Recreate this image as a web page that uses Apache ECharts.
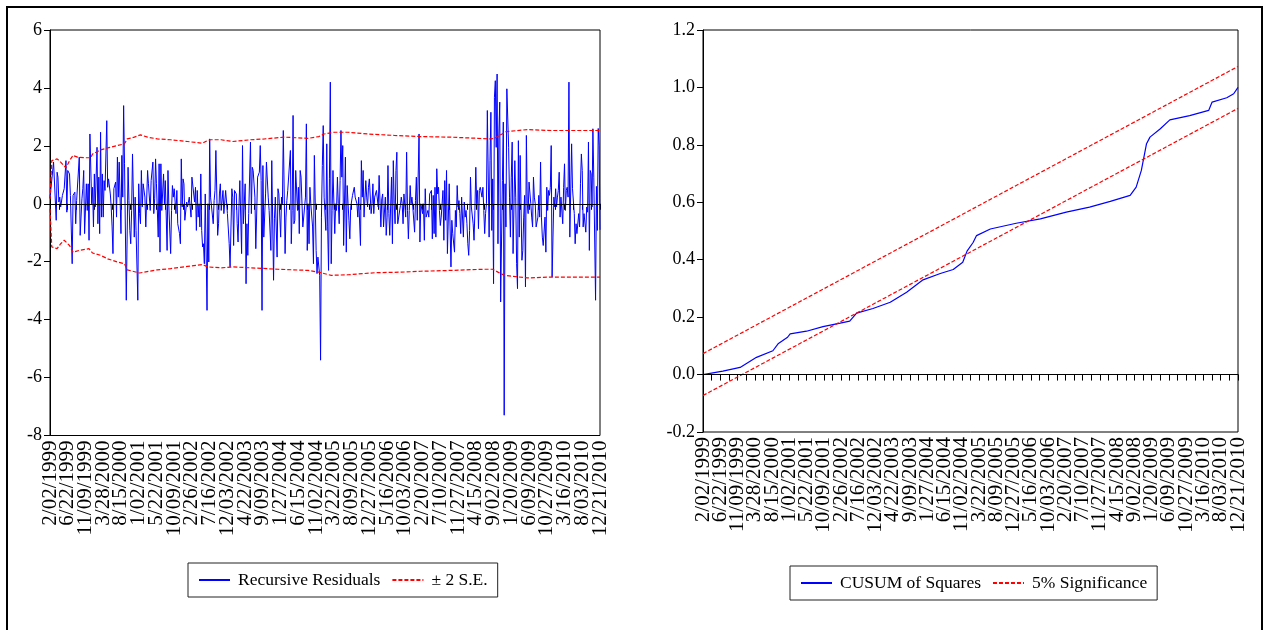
<!DOCTYPE html>
<html>
<head>
<meta charset="utf-8">
<script src="https://cdn.jsdelivr.net/npm/echarts@6/dist/echarts.min.js"></script>
<style>
html,body{margin:0;padding:0;background:#fff;}
#chart{width:1269px;height:630px;}
</style>
</head>
<body>
<div id="chart"></div>
<script>
// ---------- categories: weekly dates 2/02/1999 .. 12/21/2010 ----------
const firstWeek = [1999, 2, 2];
const weekCount = 621;
const labelEvery = 20;   // a date label every 20 weeks
const tickEvery = 10;    // a tick every 10 weeks
const categories = [];
(function () {
  const t0 = Date.UTC(firstWeek[0], firstWeek[1] - 1, firstWeek[2]);
  for (let i = 0; i < weekCount; i++) {
    const d = new Date(t0 + i * 7 * 86400000);
    const dd = String(d.getUTCDate()).padStart(2, '0');
    categories.push((d.getUTCMonth() + 1) + '/' + dd + '/' + d.getUTCFullYear());
  }
})();

// ---------- recursive residuals [week index, value] ----------
const residuals = [
[0,0.2],[4,1.44],[7,-0.57],[8,1.09],[9,0.92],[10,0.06],[11,0.23],[12,-0.11],[14,0.29],[16,0.52],[18,1.49],[19,-0.29],[20,1.15],[22,1.03],[23,0.29],[25,-2.07],[26,0.29],[28,0.40],[29,-0.69],[30,0.11],[32,0.06],[33,1.61],[34,-1.09],[36,0.17],[37,0.52],[38,1.15],[39,-1.03],[41,0.69],[42,-0.23],[43,0.69],[44,-1.26],[45,2.41],[47,0],[48,0.57],[49,-0.80],[50,1.03],[51,-0.11],[53,1.95],[54,-0.69],[55,0.92],[56,-1.03],[57,2.47],[58,-0.46],[59,1.03],[60,-0.46],[61,0.80],[62,0.46],[64,2.87],[65,0.57],[66,0.86],[68,0.34],[69,-0.11],[70,-0.80],[71,-1.72],[72,0.52],[74,0.75],[75,-0.46],[76,1.61],[77,0.23],[78,1.44],[80,-1.03],[81,1.67],[82,0.23],[83,3.39],[84,1.38],[86,-3.33],[88,1.26],[89,0.11],[90,-0.92],[91,-1.38],[92,-0.23],[93,1.72],[95,-1.15],[96,0.23],[97,-0.92],[99,-3.33],[100,0.69],[101,-0.34],[102,-0.69],[103,1.15],[104,-0.11],[105,0.69],[107,0.23],[108,-0.80],[110,1.15],[111,0.69],[113,-0.23],[114,0.80],[116,1.44],[117,-0.34],[118,0.17],[119,1.55],[120,0.69],[122,-1.15],[123,1.38],[124,-1.67],[125,1.38],[126,-0.23],[128,1.03],[129,0],[130,0.80],[132,-1.61],[133,1.15],[134,-0.11],[136,-1.72],[137,-0.23],[138,0.63],[139,0.23],[140,0.52],[142,-0.34],[143,0.46],[144,-0.69],[146,-1.03],[147,-1.38],[148,1.55],[149,-0.11],[150,0.86],[151,0.69],[152,-0.57],[154,0.06],[155,-0.11],[157,0.23],[159,-0.46],[160,0.92],[161,0.98],[163,0.06],[164,0.57],[165,-0.92],[166,0.46],[167,-0.46],[168,0],[169,-0.80],[170,1.03],[171,-0.92],[172,-1.49],[173,-1.38],[174,-2.07],[175,0.34],[176,0.34],[177,-3.68],[178,0],[179,-2.01],[180,2.24],[181,0.23],[183,0.23],[184,-0.69],[185,0.11],[186,0.46],[187,1.84],[189,-1.09],[190,-0.69],[191,0.34],[192,0.69],[193,-0.23],[195,0.46],[196,-0.34],[198,0.46],[200,-0.34],[202,-1.38],[203,-2.18],[205,0.52],[206,0.23],
[207,-1.44],[208,0.46],[210,0.34],[211,-0.69],[212,-1.32],[213,-0.11],[214,0.80],[216,-1.72],[217,2.01],[218,-0.69],[220,0.69],[221,-2.76],[222,-0.69],[223,-1.78],[224,-0.34],[226,2.13],[227,-0.34],[228,1.26],[229,1.15],[231,0.23],[232,-1.55],[234,0.92],[236,1.09],[237,2.01],[238,0.80],[239,-3.68],[240,1.32],[241,-1.15],[243,0.34],[244,1.44],[246,0.23],[247,-0.23],[249,-1.61],[250,1.49],[252,-2.64],[253,-0.52],[254,0.23],[256,-1.84],[257,0.52],[258,0.34],[260,-1.15],[261,0.23],[262,0],[263,2.53],[265,-1.72],[266,-0.46],[267,0.11],[268,0.46],[271,1.84],[272,-1.38],[273,-0.23],[274,3.05],[275,-0.69],[276,-0.57],[277,1.15],[279,-0.23],[280,0.57],[281,-1.03],[282,1.15],[283,0.92],[285,-0.80],[286,-0.80],[288,0.23],[289,2.76],[290,-1.61],[291,0],[292,-1.38],[293,0.57],[294,0],[296,-0.80],[297,-2.07],[298,1.67],[300,-1.61],[301,-2.41],[302,-1.84],[304,-2.47],[305,-5.40],[306,-0.46],[307,1.32],[308,2.70],[309,0.23],[311,-0.92],[312,2.07],[313,-0.80],[314,-2.30],[315,0.86],[316,4.20],[317,-2.07],[318,-0.23],[319,1.15],[321,-1.03],[322,0],[323,-0.23],[324,0.92],[325,0],[326,-0.69],[327,0.80],[328,2.53],[329,0.92],[330,2.01],[331,-1.44],[333,1.61],[334,-1.67],[335,0.63],[336,0],[337,-0.57],[338,-1.21],[339,-0.11],[341,0.29],[342,0.34],[343,0.57],[344,0.23],[346,0],[347,-0.46],[348,0.23],[350,-1.44],[351,1.49],[352,0.23],[353,1.15],[354,-0.46],[356,0.80],[357,0.23],[358,-0.11],[359,0.57],[360,0.86],[362,-0.34],[363,0],[364,0.69],[365,-0.34],[366,0.23],[368,0.46],[369,0.52],[370,-0.11],[371,0.98],[373,-0.80],[374,0.17],[375,0.34],[376,-0.80],[378,0.23],[379,-1.09],[380,-0.46],[381,1.32],[382,-0.34],[383,-1.09],[385,0.92],[386,-1.38],[387,1.49],[388,0],[389,-0.69],[390,1.15],[391,1.78],[392,-0.69],[394,-0.75],[395,-0.06],[396,0.23],[397,0],[398,-0.69],[399,0.34],[401,-0.46],[402,1.78],[403,-0.23],[404,-1.21],[405,-0.23],[406,0.63],[407,0],[408,0.23],[409,-0.11],[411,-0.98],[412,0.11],[413,0.92],[414,-0.57],[416,2.41],[417,-1.32],[418,0],
[420,-0.34],[421,0],[422,-1.26],[423,0.52],[424,-0.46],[425,-0.34],[426,-0.23],[427,-0.46],[428,0.34],[430,0.46],[431,-1.21],[432,0.29],[433,-1.03],[434,0.57],[435,-1.15],[436,1.21],[437,0.34],[438,0.57],[439,-0.23],[440,-0.75],[441,-0.46],[443,0.46],[444,-1.26],[445,0.80],[446,-0.57],[447,1.15],[448,-1.72],[450,0.69],[451,-0.80],[452,-2.18],[453,-0.57],[454,-1.03],[456,-1.67],[457,-0.23],[458,-0.80],[459,0.63],[460,-0.11],[461,0.11],[462,-0.34],[463,-1.03],[464,0.23],[466,-1.15],[467,0.06],[468,-0.46],[469,-0.23],[470,-0.69],[471,-1.38],[472,-1.78],[473,-0.92],[474,0.92],[475,-0.11],[477,-0.69],[478,-1.26],[479,-0.23],[480,1.26],[481,0],[482,0.46],[483,-0.86],[484,0.46],[485,0.57],[487,0.23],[488,0.57],[489,-0.23],[490,-1.03],[491,-0.34],[492,0],[493,3.22],[495,-1.15],[496,1.49],[497,3.16],[498,-0.92],[499,0.86],[500,-2.76],[501,3.68],[502,4.25],[503,1.95],[504,4.48],[505,-1.38],[506,2.41],[507,3.51],[508,-3.39],[510,0.80],[511,2.82],[512,-7.30],[513,0.69],[514,-0.80],[515,3.97],[517,1.95],[518,0.23],[519,-1.15],[520,0.92],[521,2.13],[522,-1.72],[524,1.49],[525,0.23],[526,-2.07],[527,-2.93],[528,2.18],[529,-1.15],[530,1.67],[532,-1.95],[533,-1.61],[534,-0.46],[535,0.29],[536,-2.87],[537,2.36],[538,0],[539,-0.34],[540,0.75],[542,0],[543,-0.46],[544,-0.80],[545,0.92],[546,0.23],[547,0],[548,-0.80],[550,-0.46],[551,0.29],[552,-0.46],[553,1.44],[554,-0.46],[555,-1.15],[556,-1.44],[558,-0.46],[559,-1.67],[560,0.57],[561,-0.23],[562,0.46],[563,0.29],[564,0.57],[565,2.01],[566,-2.53],[568,0.23],[569,-0.11],[570,0.52],[571,-0.11],[572,0.23],[573,0.46],[574,1.09],[575,-0.46],[576,0.23],[578,-0.69],[579,0.57],[580,1.38],[581,-0.23],[582,0.46],[583,0.57],[584,0.23],[585,4.20],[586,-1.15],[588,2.07],[589,0.52],[590,0.46],[591,-0.34],[592,-1.38],[593,-0.69],[594,-1.03],[596,-0.34],[597,-0.80],[598,0.69],[599,1.72],[600,1.15],[601,-0.80],[602,-0.34],[604,-0.98],[605,-0.11],[606,-0.29],[607,2.13],[608,-1.61],[609,1.15],[610,1.03],[611,-0.11],[612,2.59],[613,0.92],[615,-3.33],[616,0.6],[617,-0.92],[618,2.6],[619,2.0],[620,-0.9]
];

// ---------- +/- 2 S.E. bands [week index, value] ----------
const seUpper = [
[0,0.17],[2,1.49],[4,1.49],[8,1.55],[12,1.44],[18,1.24],[22,1.49],[26,1.67],[31,1.61],[39,1.59],[46,1.59],[48,1.72],[57,1.86],[65,1.93],[76,2.01],[84,2.07],[87,2.24],[95,2.30],[102,2.38],[110,2.30],[121,2.24],[136,2.21],[155,2.15],[172,2.09],[176,2.16],[181,2.21],[193,2.21],[206,2.15],[226,2.21],[242,2.24],[264,2.30],[291,2.26],[303,2.32],[309,2.41],[321,2.47],[336,2.47],[358,2.41],[388,2.36],[418,2.32],[452,2.30],[482,2.26],[497,2.24],[501,2.26],[514,2.49],[538,2.56],[565,2.53],[587,2.53],[620,2.53]
];
const seLower = [
[0,-0.17],[2,-1.49],[4,-1.49],[8,-1.55],[12,-1.38],[16,-1.26],[18,-1.26],[22,-1.44],[26,-1.67],[33,-1.61],[44,-1.55],[48,-1.70],[57,-1.78],[65,-1.90],[76,-2.01],[84,-2.07],[87,-2.28],[101,-2.39],[121,-2.28],[136,-2.24],[155,-2.16],[172,-2.10],[178,-2.18],[193,-2.21],[206,-2.18],[226,-2.21],[257,-2.26],[291,-2.30],[303,-2.36],[317,-2.47],[336,-2.45],[366,-2.38],[396,-2.36],[418,-2.33],[452,-2.30],[489,-2.26],[499,-2.26],[505,-2.36],[512,-2.47],[538,-2.56],[565,-2.53],[587,-2.53],[620,-2.53]
];

// ---------- CUSUM of squares [week index, value] ----------
const cusumSq = [
[0,0.0],[23,0.012],[43,0.025],[62,0.06],[81,0.083],[87,0.107],[98,0.13],[101,0.142],[120,0.151],[139,0.167],[159,0.179],[170,0.186],[178,0.214],[197,0.23],[217,0.252],[236,0.287],[255,0.33],[275,0.352],[290,0.366],[301,0.391],[306,0.43],[313,0.46],[317,0.484],[333,0.507],[363,0.527],[391,0.542],[421,0.566],[448,0.583],[472,0.603],[495,0.624],[502,0.653],[508,0.711],[514,0.804],[518,0.827],[530,0.856],[541,0.887],[564,0.902],[586,0.92],[590,0.949],[607,0.964],[615,0.978],[620,1.0]
];
// ---------- 5% significance bounds [week index, value] ----------
const sigUpper = [[0,0.073],[620,1.073]];
const sigLower = [[0,-0.073],[620,0.927]];

// ---------- axis ticks ----------
const leftTicks = {min:-8, max:6, interval:2};
const rightTicks = {min:-0.2, max:1.2, interval:0.2};

const FONT = 'Liberation Serif';
const BLUE = '#0000ff', RED = '#ff0000';

function xAxisCfg(gi) {
  return {
    type:'category', gridIndex:gi, data:categories, boundaryGap:false,
    axisLine:{show:true, lineStyle:{color:'#000', width:1}},
    axisTick:{show:true, interval:tickEvery - 1, length:6, lineStyle:{color:'#000'}},
    axisLabel:{interval:0, rotate:90, fontFamily:FONT, fontSize:21, lineHeight:14, color:'#000', margin:5,
      formatter:(v, i) => (i % labelEvery === 0 ? v : '')},
    splitLine:{show:false}
  };
}
function yAxisCfg(gi, t, fmt) {
  return {
    type:'value', gridIndex:gi, min:t.min, max:t.max, interval:t.interval,
    axisLine:{show:true, lineStyle:{color:'#000', width:1}},
    axisTick:{show:true, length:6, lineStyle:{color:'#000'}},
    axisLabel:{fontFamily:FONT, fontSize:18, color:'#000', margin:8, formatter:fmt},
    splitLine:{show:false}
  };
}
const zeroLine = {silent:true, symbol:'none', label:{show:false}, animation:false,
  lineStyle:{color:'#000', type:'solid', width:1}, emphasis:{disabled:true}, data:[{yAxis:0}]};

function legendCfg(left, top, names) {
  return {
    left:left, top:top, orient:'horizontal', data:names,
    borderColor:'#222', borderWidth:1, padding:[8,10,8,10], itemGap:11,
    itemWidth:31, itemHeight:14, selectedMode:false,
    itemStyle:{opacity:0, borderWidth:0},
    textStyle:{fontFamily:FONT, fontSize:17.5, color:'#000', padding:[0,0,0,3]}
  };
}

const chart = echarts.init(document.getElementById('chart'), null, {renderer:'canvas'});
chart.setOption({
  animation:false,
  backgroundColor:'#fff',
  graphic:[{type:'rect', shape:{x:7, y:7, width:1255, height:660}, style:{fill:'none', stroke:'#000', lineWidth:2}, silent:true}],
  grid:[
    {left:50, right:669, top:30, bottom:194.5, show:true, borderColor:'#000', borderWidth:1, backgroundColor:'#fff'},
    {left:703, right:31, top:30, bottom:198, show:true, borderColor:'#000', borderWidth:1, backgroundColor:'#fff'}
  ],
  xAxis:[xAxisCfg(0), xAxisCfg(1)],
  yAxis:[
    yAxisCfg(0, leftTicks, v => String(v)),
    yAxisCfg(1, rightTicks, v => v.toFixed(1))
  ],
  legend:[
    legendCfg(188, 563, ['Recursive Residuals', '± 2 S.E.']),
    legendCfg(790, 566, ['CUSUM of Squares', '5% Significance'])
  ],
  series:[
    {name:'Recursive Residuals', type:'line', xAxisIndex:0, yAxisIndex:0, data:residuals, symbol:'none',
      lineStyle:{color:BLUE, width:1}, itemStyle:{color:BLUE}, markLine:zeroLine, z:3},
    {name:'± 2 S.E.', type:'line', xAxisIndex:0, yAxisIndex:0, data:seUpper, symbol:'none',
      lineStyle:{color:RED, width:1.2, type:[4,2]}, itemStyle:{color:RED}, z:4},
    {name:'± 2 S.E.', type:'line', xAxisIndex:0, yAxisIndex:0, data:seLower, symbol:'none',
      lineStyle:{color:RED, width:1.2, type:[4,2]}, itemStyle:{color:RED}, z:4},
    {name:'CUSUM of Squares', type:'line', xAxisIndex:1, yAxisIndex:1, data:cusumSq, symbol:'none',
      lineStyle:{color:BLUE, width:1.2}, itemStyle:{color:BLUE}, markLine:zeroLine, z:3},
    {name:'5% Significance', type:'line', xAxisIndex:1, yAxisIndex:1, data:sigUpper, symbol:'none',
      lineStyle:{color:RED, width:1.2, type:[4,2]}, itemStyle:{color:RED}, z:4},
    {name:'5% Significance', type:'line', xAxisIndex:1, yAxisIndex:1, data:sigLower, symbol:'none',
      lineStyle:{color:RED, width:1.2, type:[4,2]}, itemStyle:{color:RED}, z:4}
  ]
});
</script>
</body>
</html>
